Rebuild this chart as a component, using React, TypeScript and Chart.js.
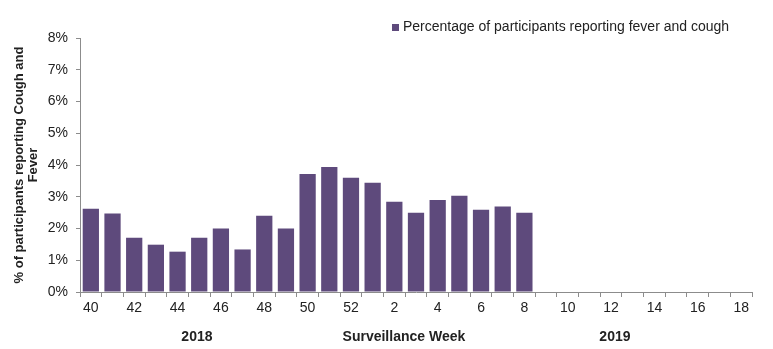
import React, { useEffect, useRef } from "react";
import { Chart, registerables } from "chart.js";

Chart.register(...registerables);

const weeks: string[] = [
  "40", "41", "42", "43", "44", "45", "46", "47", "48", "49", "50", "51", "52",
  "1", "2", "3", "4", "5", "6", "7", "8", "9", "10", "11", "12", "13", "14", "15", "16", "17", "18",
];
const feverCough: (number | null)[] = [
  2.62, 2.47, 1.71, 1.49, 1.27, 1.71, 2.0, 1.34, 2.4, 2.0, 3.72, 3.94, 3.6,
  3.44, 2.84, 2.5, 2.9, 3.03, 2.59, 2.69, 2.5,
  null, null, null, null, null, null, null, null, null, null,
];
const seriesLabel = "Percentage of participants reporting fever and cough";
const yTitle = ["% of participants reporting Cough and", "Fever"];
const xTitle = "Surveillance Week";
const yearLabels = [
  { text: "2018", frac: 0.174 },
  { text: "2019", frac: 0.796 },
];
const xTitleFrac = 0.482;

const BAR = "#5E4A7C";
const AXIS = "#8C8C8C";
const TEXT = "#222222";
const FONT = "'Liberation Sans', Arial, sans-serif";

export default function App() {
  const ref = useRef<HTMLCanvasElement | null>(null);
  useEffect(() => {
    if (!ref.current) return;
    const extras = {
      id: "extras",
      afterDraw(chart: any) {
        const { ctx, chartArea } = chart;
        ctx.save();
        // legend
        ctx.fillStyle = BAR;
        ctx.fillRect(392, 24, 7, 7);
        ctx.fillStyle = TEXT;
        ctx.font = `14px ${FONT}`;
        ctx.textAlign = "left";
        ctx.textBaseline = "middle";
        ctx.fillText(seriesLabel, 403, 27.5);
        // bottom labels
        ctx.font = `bold 14px ${FONT}`;
        ctx.textAlign = "center";
        const w = chartArea.right - chartArea.left;
        for (const y of yearLabels) {
          ctx.fillText(y.text, chartArea.left + w * y.frac, 337);
        }
        ctx.fillText(xTitle, chartArea.left + w * xTitleFrac, 337);
        ctx.restore();
      },
    };
    const chart = new Chart(ref.current, {
      type: "bar",
      data: {
        labels: weeks,
        datasets: [
          {
            label: seriesLabel,
            data: feverCough,
            backgroundColor: BAR,
            borderWidth: 0,
            barPercentage: 0.75,
            categoryPercentage: 1,
          },
        ],
      },
      options: {
        responsive: false,
        animation: false,
        layout: { padding: { top: 38, right: 21, left: 0, bottom: 0 } },
        plugins: {
          legend: { display: false },
          tooltip: { enabled: false },
        },
        scales: {
          x: {
            grid: {
              offset: true,
              drawOnChartArea: false,
              color: AXIS,
              tickLength: 5,
              tickColor: AXIS,
            },
            border: { color: AXIS, width: 1 },
            ticks: {
              autoSkip: false,
              maxRotation: 0,
              padding: 3,
              color: TEXT,
              font: { family: FONT, size: 14 },
              callback: (_v: any, i: number) => (i % 2 === 0 ? weeks[i] : ""),
            },
            afterFit: (s: any) => {
              s.height = 57;
            },
          },
          y: {
            min: 0,
            max: 8,
            grid: {
              drawOnChartArea: false,
              color: AXIS,
              tickLength: 4,
              tickColor: AXIS,
            },
            border: { color: AXIS, width: 1 },
            ticks: {
              stepSize: 1,
              padding: 8,
              color: TEXT,
              font: { family: FONT, size: 14 },
              callback: (v: any) => `${v}%`,
            },
            title: {
              display: true,
              text: yTitle,
              color: TEXT,
              font: { family: FONT, size: 13, weight: "bold", lineHeight: 1.1 },
              padding: { top: 12, bottom: 0 },
            },
            afterFit: (s: any) => {
              s.width = 80;
            },
          },
        },
      },
      plugins: [extras],
    });
    return () => chart.destroy();
  }, []);
  return (
    <div style={{ position: "fixed", left: 0, top: 0, width: 773, height: 349, background: "#fff" }}>
      <canvas ref={ref} width={773} height={349} style={{ display: "block" }} />
    </div>
  );
}
